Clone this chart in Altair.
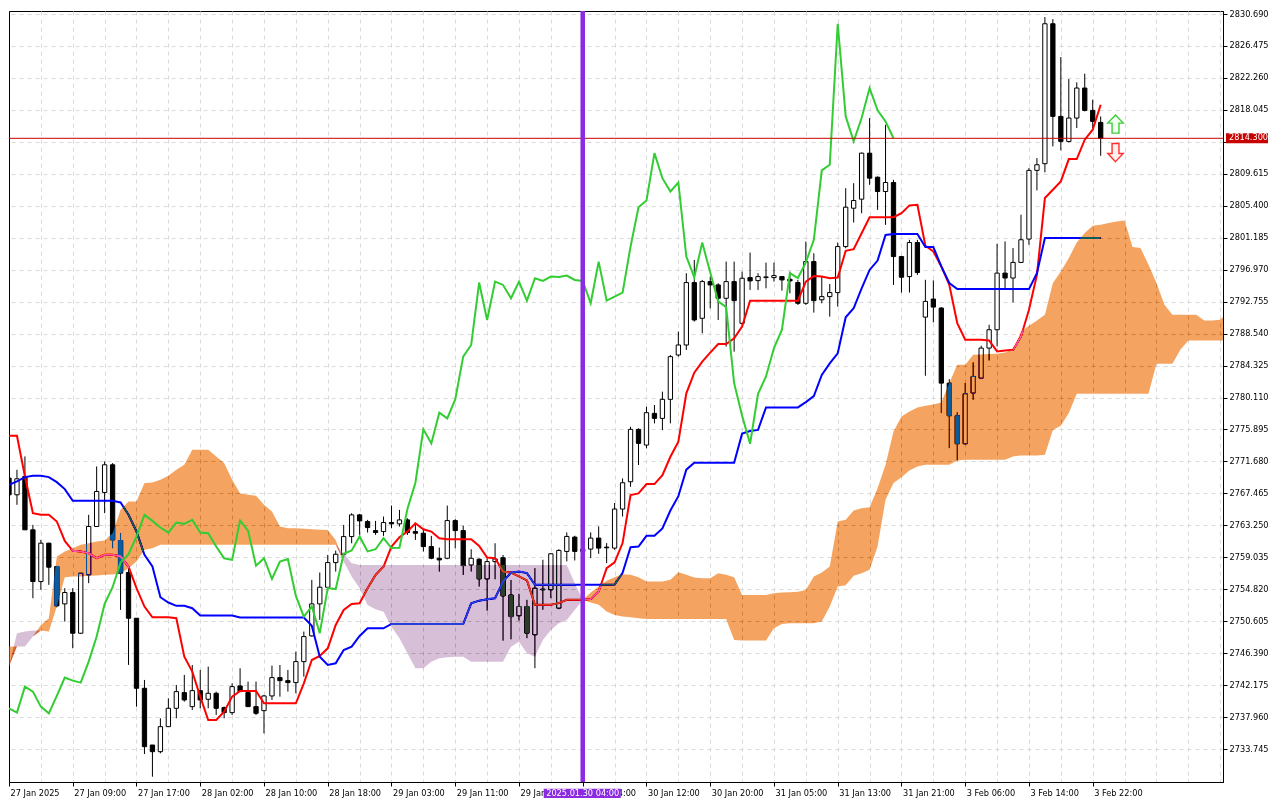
import json
import altair as alt
import pandas as pd

# ---------------- data (XAUUSD H1, Ichimoku) ----------------
open_prices = [
    2769.48, 2767.28, 2769.70, 2762.66, 2755.84, 2760.90, 2757.82, 2752.89, 2754.39, 2749.02,
    2756.72, 2763.10, 2767.59, 2771.24, 2761.25, 2757.03, 2751.00, 2741.76, 2734.28, 2733.40,
    2736.70, 2739.12, 2741.19, 2739.34, 2741.45, 2740.31, 2741.10, 2739.21, 2738.55, 2742.07,
    2741.19, 2739.34, 2738.81, 2740.75, 2743.17, 2742.77, 2742.51, 2745.28, 2748.67, 2752.89,
    2755.08, 2758.34, 2759.44, 2761.77, 2764.63, 2763.75, 2762.56, 2762.43, 2763.62, 2763.45,
    2763.97, 2762.43, 2762.21, 2760.45, 2758.91, 2758.91, 2763.88, 2762.56, 2758.03, 2758.78,
    2756.18, 2758.47, 2758.98, 2754.07, 2751.32, 2752.55, 2748.81, 2754.75, 2754.75, 2752.33,
    2759.81, 2761.70, 2759.81, 2760.12, 2761.57, 2760.38, 2760.25, 2765.40, 2769.00, 2775.91,
    2773.84, 2778.02, 2777.36, 2779.87, 2785.72, 2787.04, 2795.27, 2790.56, 2795.40, 2794.96,
    2793.20, 2795.40, 2789.90, 2795.93, 2795.53, 2795.93, 2795.93, 2796.06, 2795.71, 2795.27,
    2792.54, 2798.04, 2793.00, 2793.42, 2793.95, 2800.02, 2805.08, 2806.27, 2812.34, 2809.17,
    2807.28, 2808.47, 2798.70, 2796.06, 2800.55, 2790.72, 2793.10, 2791.91, 2782.01, 2777.71,
    2774.01, 2780.70, 2782.67, 2786.63, 2789.05, 2796.52, 2795.87, 2797.93, 2801.01, 2810.07,
    2810.95, 2829.41, 2817.19, 2813.89, 2816.97, 2820.93, 2817.98, 2816.40,
]
high_prices = [
    2769.92, 2770.58, 2772.34, 2763.32, 2761.34, 2760.95, 2757.90, 2754.96, 2754.96, 2756.94,
    2764.64, 2771.02, 2771.68, 2771.46, 2762.22, 2757.60, 2751.00, 2742.86, 2734.28, 2737.80,
    2740.44, 2742.20, 2743.52, 2744.84, 2744.18, 2744.62, 2741.32, 2739.34, 2742.42, 2744.40,
    2742.64, 2742.64, 2740.88, 2744.75, 2744.84, 2744.18, 2746.60, 2749.24, 2756.06, 2757.03,
    2759.35, 2759.92, 2763.31, 2764.85, 2764.76, 2763.97, 2763.84, 2764.41, 2765.86, 2765.29,
    2764.19, 2763.45, 2762.65, 2761.86, 2760.32, 2765.86, 2764.06, 2763.22, 2760.10, 2758.91,
    2758.91, 2760.89, 2759.35, 2756.05, 2754.22, 2753.43, 2757.61, 2758.71, 2759.59, 2760.10,
    2762.32, 2761.88, 2761.00, 2762.32, 2763.11, 2760.91, 2766.20, 2769.44, 2776.26, 2776.04,
    2778.90, 2779.12, 2780.88, 2785.72, 2788.80, 2796.50, 2798.26, 2795.62, 2796.06, 2795.18,
    2798.04, 2798.04, 2796.72, 2799.23, 2796.50, 2797.91, 2797.91, 2796.10, 2796.72, 2795.62,
    2800.68, 2799.14, 2796.06, 2795.09, 2800.55, 2807.72, 2808.38, 2812.43, 2816.96, 2809.26,
    2816.08, 2808.82, 2798.80, 2800.90, 2800.90, 2795.64, 2795.56, 2792.04, 2782.54, 2778.15,
    2782.01, 2784.74, 2786.94, 2789.71, 2800.39, 2800.70, 2799.82, 2804.22, 2810.38, 2811.69,
    2830.29, 2830.03, 2825.02, 2822.11, 2821.68, 2822.82, 2819.39, 2817.19,
]
low_prices = [
    2767.06, 2765.96, 2762.66, 2753.64, 2754.74, 2755.40, 2752.45, 2750.56, 2747.04, 2748.93,
    2755.62, 2763.10, 2764.86, 2760.24, 2752.10, 2744.84, 2739.34, 2733.09, 2730.10, 2733.18,
    2736.70, 2737.80, 2740.00, 2738.90, 2739.12, 2739.12, 2738.24, 2737.80, 2738.24, 2741.32,
    2739.34, 2738.24, 2735.82, 2740.22, 2740.66, 2741.32, 2741.10, 2743.30, 2748.58, 2750.78,
    2754.95, 2757.15, 2759.13, 2760.89, 2761.99, 2762.30, 2761.99, 2761.86, 2762.87, 2763.09,
    2761.99, 2761.33, 2759.79, 2758.78, 2757.15, 2758.78, 2760.23, 2756.71, 2757.15, 2755.17,
    2752.00, 2756.14, 2748.04, 2748.22, 2750.70, 2748.37, 2744.41, 2752.11, 2753.65, 2752.20,
    2758.49, 2758.62, 2759.00, 2758.93, 2759.50, 2758.27, 2760.03, 2764.41, 2768.34, 2771.20,
    2773.40, 2776.70, 2775.82, 2776.70, 2785.50, 2786.38, 2790.12, 2788.58, 2791.88, 2790.34,
    2786.82, 2786.16, 2789.68, 2794.30, 2794.30, 2794.52, 2795.40, 2794.21, 2793.86, 2792.32,
    2792.32, 2791.31, 2792.54, 2790.78, 2792.10, 2799.80, 2803.19, 2804.42, 2808.16, 2804.86,
    2802.88, 2794.96, 2793.95, 2793.95, 2796.28, 2782.98, 2790.02, 2778.06, 2773.44, 2771.81,
    2773.88, 2779.82, 2782.54, 2785.00, 2786.85, 2794.55, 2792.66, 2797.84, 2800.26, 2807.43,
    2809.80, 2813.23, 2812.71, 2813.76, 2815.65, 2817.85, 2815.65, 2812.00,
]
close_prices = [
    2767.28, 2769.39, 2762.66, 2755.84, 2760.90, 2757.73, 2752.63, 2754.39, 2749.02, 2756.94,
    2763.10, 2767.72, 2771.24, 2761.34, 2756.94, 2751.00, 2741.76, 2734.06, 2733.40, 2736.70,
    2739.12, 2741.32, 2740.22, 2741.45, 2740.22, 2741.10, 2739.12, 2738.55, 2741.98, 2741.32,
    2739.34, 2738.46, 2740.75, 2743.17, 2742.77, 2742.51, 2745.28, 2748.58, 2752.89, 2755.09,
    2758.34, 2759.44, 2761.77, 2764.63, 2763.84, 2762.96, 2762.30, 2763.62, 2763.45, 2763.97,
    2762.30, 2762.21, 2760.45, 2758.91, 2758.69, 2763.88, 2762.56, 2757.94, 2758.91, 2756.18,
    2758.47, 2758.82, 2753.94, 2751.21, 2752.55, 2749.03, 2754.97, 2754.84, 2759.50, 2759.94,
    2761.79, 2759.81, 2760.10, 2761.57, 2760.25, 2760.29, 2765.40, 2768.87, 2775.91, 2774.06,
    2778.11, 2777.36, 2779.87, 2785.50, 2787.04, 2795.27, 2790.34, 2795.40, 2794.96, 2793.20,
    2795.40, 2792.89, 2795.84, 2795.49, 2796.06, 2796.02, 2796.19, 2795.62, 2795.49, 2792.54,
    2798.04, 2792.89, 2793.42, 2793.95, 2800.02, 2805.21, 2806.09, 2812.34, 2809.04, 2807.28,
    2808.47, 2798.70, 2795.97, 2800.55, 2796.59, 2792.79, 2792.04, 2782.01, 2777.71, 2774.01,
    2780.61, 2782.89, 2786.63, 2789.05, 2796.52, 2795.87, 2797.93, 2800.92, 2810.07, 2810.81,
    2829.41, 2817.19, 2813.89, 2816.97, 2820.93, 2817.98, 2816.53, 2814.30,
]
tenkan_sen = [
    2775.07, 2775.07, 2769.70, 2764.86, 2764.64, 2764.64, 2763.76, 2761.20, 2759.89, 2759.80,
    2759.58, 2758.92, 2759.36, 2759.36, 2759.14, 2757.82, 2754.96, 2752.54, 2751.13, 2751.13,
    2751.13, 2751.00, 2745.94, 2743.96, 2740.66, 2737.58, 2737.58, 2738.68, 2740.66, 2741.41,
    2741.41, 2741.41, 2739.78, 2739.78, 2739.78, 2739.78, 2739.78, 2742.42, 2745.49, 2746.02,
    2747.03, 2750.11, 2752.09, 2752.88, 2752.97, 2754.95, 2756.71, 2757.81, 2760.45, 2761.68,
    2762.43, 2763.53, 2762.74, 2762.43, 2761.55, 2761.42, 2761.42, 2761.42, 2761.42, 2760.54,
    2759.00, 2758.91, 2757.15, 2757.02, 2756.51, 2755.98, 2752.77, 2752.77, 2752.77, 2752.99,
    2753.43, 2753.43, 2753.43, 2753.52, 2754.53, 2757.61, 2758.36, 2760.91, 2767.24, 2767.46,
    2768.69, 2768.69, 2769.88, 2772.30, 2774.28, 2780.66, 2783.39, 2784.84, 2786.03, 2787.17,
    2787.17, 2787.92, 2789.46, 2792.89, 2792.89, 2792.89, 2792.89, 2792.89, 2792.89, 2792.89,
    2795.40, 2796.15, 2796.06, 2795.84, 2795.93, 2799.45, 2799.67, 2801.78, 2803.89, 2803.89,
    2803.89, 2803.89, 2804.42, 2805.45, 2805.52, 2800.13, 2799.38, 2797.40, 2794.98, 2789.93,
    2787.73, 2787.73, 2787.73, 2787.64, 2786.19, 2786.32, 2786.41, 2788.17, 2791.69, 2796.30,
    2806.42, 2807.52, 2808.62, 2811.56, 2811.56, 2814.11, 2815.43, 2818.73,
]
kijun_sen = [
    2768.60, 2769.04, 2769.61, 2769.79, 2769.79, 2769.61, 2768.95, 2768.03, 2766.49, 2766.49,
    2766.49, 2766.49, 2766.49, 2766.49, 2766.27, 2764.64, 2762.44, 2759.36, 2757.82, 2753.77,
    2753.07, 2752.63, 2752.63, 2752.32, 2751.35, 2751.35, 2751.35, 2751.35, 2751.35, 2751.09,
    2751.09, 2751.09, 2751.09, 2751.09, 2751.09, 2751.09, 2751.09, 2751.09, 2750.00, 2745.93,
    2744.83, 2745.05, 2746.81, 2747.25, 2748.66, 2749.67, 2749.67, 2749.67, 2750.24, 2750.24,
    2750.24, 2750.24, 2750.24, 2750.24, 2750.24, 2750.24, 2750.24, 2750.24, 2752.97, 2753.32,
    2753.50, 2753.63, 2755.83, 2757.02, 2757.17, 2756.95, 2755.41, 2755.41, 2755.41, 2755.41,
    2755.41, 2755.41, 2755.41, 2755.41, 2755.41, 2755.41, 2755.45, 2757.00, 2760.37, 2760.46,
    2761.87, 2761.87, 2762.84, 2765.21, 2767.10, 2770.60, 2771.50, 2771.50, 2771.50, 2771.50,
    2771.50, 2771.50, 2775.35, 2775.70, 2775.84, 2778.80, 2778.80, 2778.80, 2778.80, 2778.80,
    2779.50, 2780.30, 2783.08, 2784.62, 2785.94, 2790.69, 2791.88, 2794.52, 2796.94, 2798.17,
    2801.56, 2801.69, 2801.69, 2801.69, 2801.69, 2799.95, 2799.95, 2797.40, 2795.21, 2794.41,
    2794.41, 2794.41, 2794.41, 2794.41, 2794.41, 2794.41, 2794.41, 2794.41, 2794.41, 2796.52,
    2801.14, 2801.14, 2801.14, 2801.14, 2801.14, 2801.14, 2801.14, 2801.14,
]
# cloud vertices: bar position and both spans (last vertex sits on the right edge)
cloud_bars = list(range(153)) + [152.35]
senkou_a = [
    2747.26, 2747.26, 2747.26, 2748.58, 2750.12, 2751.00, 2759.14, 2759.80, 2760.24, 2760.68,
    2760.90, 2761.12, 2761.25, 2762.22, 2765.30, 2766.40, 2766.40, 2768.82, 2768.91, 2769.26,
    2769.79, 2770.58, 2771.24, 2773.22, 2773.22, 2773.22, 2772.34, 2771.46, 2769.26, 2767.50,
    2767.28, 2767.15, 2765.96, 2765.08, 2763.10, 2762.88, 2762.88, 2762.79, 2762.75, 2762.66,
    2762.65, 2761.33, 2758.47, 2756.49, 2754.95, 2752.75, 2752.18, 2751.87, 2749.89, 2748.35,
    2746.37, 2744.39, 2744.39, 2745.27, 2745.71, 2745.84, 2745.93, 2745.93, 2745.27, 2745.27,
    2745.27, 2745.27, 2745.27, 2747.25, 2747.91, 2746.37, 2745.93, 2748.13, 2749.45, 2750.33,
    2750.77, 2752.09, 2753.41, 2754.40, 2755.19, 2755.94, 2756.40, 2756.81, 2756.72, 2756.41,
    2755.84, 2755.84, 2755.84, 2756.06, 2757.07, 2756.72, 2756.37, 2756.28, 2756.28, 2756.94,
    2756.72, 2756.41, 2754.08, 2754.08, 2754.08, 2754.08, 2754.30, 2754.39, 2754.43, 2754.48,
    2754.74, 2756.50, 2757.03, 2757.82, 2763.76, 2763.98, 2765.21, 2765.52, 2765.65, 2768.16,
    2771.24, 2775.64, 2777.62, 2778.28, 2778.81, 2779.03, 2779.20, 2779.47, 2782.01, 2784.43,
    2784.43, 2785.75, 2785.80, 2785.84, 2785.88, 2786.06, 2786.41, 2788.83, 2789.58, 2790.28,
    2791.03, 2795.20, 2796.74, 2798.50, 2800.57, 2801.80, 2802.77, 2802.90, 2803.12, 2803.34,
    2803.47, 2799.95, 2799.82, 2797.62, 2795.21, 2792.35, 2791.03, 2791.03, 2791.03, 2791.03,
    2790.28, 2790.28, 2790.37, 2790.72,
]
senkou_b = [
    2744.62, 2749.02, 2749.24, 2749.37, 2749.37, 2749.24, 2752.54, 2756.41, 2756.50, 2756.50,
    2756.59, 2756.63, 2756.72, 2756.76, 2756.94, 2757.60, 2758.48, 2760.02, 2760.24, 2760.68,
    2760.68, 2760.68, 2760.68, 2760.68, 2760.68, 2760.68, 2760.68, 2760.68, 2760.68, 2760.68,
    2760.68, 2760.68, 2760.68, 2760.68, 2760.68, 2760.68, 2760.68, 2760.68, 2760.68, 2760.68,
    2760.68, 2760.68, 2759.57, 2758.25, 2758.03, 2758.03, 2758.03, 2758.03, 2758.03, 2758.03,
    2758.03, 2758.03, 2758.03, 2758.03, 2758.03, 2758.03, 2758.03, 2758.03, 2758.03, 2758.03,
    2758.03, 2758.03, 2758.03, 2758.03, 2758.03, 2758.03, 2758.03, 2758.03, 2758.03, 2758.03,
    2758.03, 2755.61, 2753.41, 2753.08, 2752.77, 2751.89, 2751.44, 2751.22, 2751.13, 2751.00,
    2750.91, 2750.91, 2750.91, 2750.91, 2750.91, 2750.91, 2750.91, 2750.91, 2750.91, 2750.91,
    2750.91, 2748.14, 2748.05, 2748.05, 2748.05, 2748.05, 2749.68, 2750.25, 2750.34, 2750.34,
    2750.34, 2750.34, 2750.56, 2752.54, 2755.18, 2755.36, 2756.59, 2756.94, 2757.38, 2760.46,
    2766.62, 2768.82, 2769.61, 2770.50, 2771.00, 2771.24, 2771.24, 2771.24, 2771.24, 2771.81,
    2771.90, 2771.90, 2771.90, 2771.90, 2771.90, 2771.90, 2772.34, 2772.47, 2772.47, 2772.47,
    2772.56, 2775.84, 2776.38, 2778.06, 2780.61, 2780.61, 2780.61, 2780.61, 2780.61, 2780.61,
    2780.61, 2780.61, 2780.61, 2780.61, 2784.56, 2784.56, 2784.56, 2786.41, 2787.64, 2787.64,
    2787.64, 2787.64, 2787.64, 2787.64,
]
chikou_shift = 26
time_labels = [
    "27 Jan 2025", "27 Jan 09:00", "27 Jan 17:00", "28 Jan 02:00", "28 Jan 10:00",
    "28 Jan 18:00", "29 Jan 03:00", "29 Jan 11:00", "29 Jan 19:00", "30 Jan 04:00",
    "30 Jan 12:00", "30 Jan 20:00", "31 Jan 05:00", "31 Jan 13:00", "31 Jan 21:00",
    "3 Feb 06:00", "3 Feb 14:00", "3 Feb 22:00",
]
price_ticks = [
    2733.745, 2737.960, 2742.175, 2746.390, 2750.605, 2754.820, 2759.035, 2763.250,
    2767.465, 2771.680, 2775.895, 2780.110, 2784.325, 2788.540, 2792.755, 2796.970,
    2801.185, 2805.400, 2809.615, 2813.830, 2818.045, 2822.260, 2826.475, 2830.690,
]
last_price = 2814.30
marker_bar = 72
marker_label = "2025.01.30 04:00"
arrow_bars = [138.86, 138.86]
arrow_prices = [2816.18, 2812.42]

# ---------------- tables ----------------
n = len(close_prices)
candles = pd.DataFrame({"i": range(n), "o": open_prices, "h": high_prices,
                        "l": low_prices, "c": close_prices})
lines = pd.DataFrame({"i": range(n), "tenkan": tenkan_sen, "kijun": kijun_sen})
chikou = pd.DataFrame({"i": range(n - chikou_shift), "v": close_prices[chikou_shift:]})
cloud = pd.DataFrame({"i": cloud_bars, "a": senkou_a, "b": senkou_b})

W, H = 1214, 771
FONT = "DejaVu Sans"
FS = 8.2
xscale = alt.Scale(domain=[0, 152.35], nice=False, zero=False)
yscale = alt.Scale(domain=[2729.40, 2831.09], nice=False, zero=False)

labels_js = json.dumps(time_labels)
tick_test = "datum.value % 8 == 0 && datum.value <= 136"
x_axis = alt.Axis(
    values=list(range(0, 153, 4)),
    labelExpr=f"({tick_test}) ? {labels_js}[datum.value / 8] : ''",
    grid=True, gridDash=[4, 4], gridColor="#d9d9d9", gridWidth=1,
    gridOpacity=alt.condition("datum.value == 0", alt.value(0), alt.value(1)),
    tickOpacity=alt.condition(tick_test, alt.value(1), alt.value(0)),
    tickSize=4, tickColor="black", domainColor="black",
    labelAlign="left", labelOffset=1, labelPadding=3, labelFlush=False,
    labelOverlap=False, labelFont=FONT, labelFontSize=FS, labelColor="black",
    title=None,
)
# the tick label sitting under the last-price tag is hidden by it in the original
y_axis = alt.Axis(
    orient="right", values=price_ticks,
    labelExpr=f"abs(datum.value - {last_price}) < 1.2 ? '' : format(datum.value, '.3f')",
    grid=True, gridDash=[4, 4], gridColor="#d9d9d9", gridWidth=1,
    tickSize=4, tickColor="black", domainColor="black",
    labelPadding=2, labelOverlap=False, labelFont=FONT, labelFontSize=FS,
    labelColor="black", title=None,
)


def X(field):
    return alt.X(field, type="quantitative", scale=xscale, axis=x_axis)


def Y(field):
    return alt.Y(field, type="quantitative", scale=yscale, axis=y_axis)


wicks = alt.Chart(candles).mark_rule(color="black", strokeWidth=1, clip=True).encode(
    x=X("i"), y=Y("l"), y2="h:Q")

bodies = alt.Chart(candles).transform_calculate(
    x0="datum.i - 0.27", x1="datum.i + 0.27"
).mark_bar(stroke="black", strokeWidth=1, clip=True).encode(
    x=X("x0"), x2="x1:Q", y=Y("o"), y2="c:Q",
    fill=alt.condition("datum.c >= datum.o", alt.value("white"), alt.value("black")),
)

tenkan_line = alt.Chart(lines).mark_line(color="#FF0000", strokeWidth=2, clip=True).encode(
    x=X("i"), y=Y("tenkan"))
kijun_line = alt.Chart(lines).mark_line(color="#0000FF", strokeWidth=2, clip=True).encode(
    x=X("i"), y=Y("kijun"))

# the cloud is painted in "difference" mode (no clip, which would isolate the blend)
cloud_up = alt.Chart(cloud).transform_calculate(lo="min(datum.a, datum.b)").mark_area(
    color="#0B5B9F", blend="difference", interpolate="linear"
).encode(x=X("i"), y=Y("a"), y2="lo:Q")
cloud_down = alt.Chart(cloud).transform_calculate(lo="min(datum.a, datum.b)").mark_area(
    color="#274027", blend="difference", interpolate="linear"
).encode(x=X("i"), y=Y("b"), y2="lo:Q")

chikou_line = alt.Chart(chikou).mark_line(color="#32CD32", strokeWidth=2, clip=True).encode(
    x=X("i"), y=Y("v"))

price_df = pd.DataFrame({"p": [last_price]})
price_line = alt.Chart(price_df).mark_rule(color="#C80000", strokeWidth=1).encode(y=Y("p"))
price_box = alt.Chart(price_df).mark_rect(color="#C80000", yOffset=-5, y2Offset=5).encode(
    x=alt.value(W + 3), x2=alt.value(W + 45), y=Y("p"), y2="p:Q")
price_text = alt.Chart(price_df).mark_text(
    align="left", baseline="middle", color="white", font=FONT, fontSize=FS
).encode(x=alt.value(W + 6), y=Y("p"), text=alt.Text("p:Q", format=".3f"))

marker_df = pd.DataFrame({"m": [marker_bar], "t": [marker_label]})
marker_line = alt.Chart(marker_df).mark_rule(color="#8A2BE2", strokeWidth=4.5).encode(x=X("m"))
marker_box = alt.Chart(marker_df).mark_rect(color="#8A2BE2", xOffset=-39, x2Offset=38).encode(
    x=X("m"), x2="m:Q", y=alt.value(H + 6.7), y2=alt.value(H + 16))
marker_text = alt.Chart(marker_df).mark_text(
    align="center", baseline="middle", color="white", font=FONT, fontSize=FS
).encode(x=X("m"), y=alt.value(H + 11.5), text="t:N")

up_path = "M0,-1 L0.85,-0.1 L0.38,-0.1 L0.38,1 L-0.38,1 L-0.38,-0.1 L-0.85,-0.1 Z"
down_path = "M0,1 L0.85,0.1 L0.38,0.1 L0.38,-1 L-0.38,-1 L-0.38,0.1 L-0.85,0.1 Z"
arrow_up = alt.Chart(pd.DataFrame({"i": [arrow_bars[0]], "p": [arrow_prices[0]]})).mark_point(
    shape=up_path, size=330, filled=False, fill="#f2fff0", fillOpacity=1,
    stroke="#3ccc3c", strokeWidth=1.4, opacity=1
).encode(x=X("i"), y=Y("p"))
arrow_down = alt.Chart(pd.DataFrame({"i": [arrow_bars[1]], "p": [arrow_prices[1]]})).mark_point(
    shape=down_path, size=330, filled=False, fill="#fff2ec", fillOpacity=1,
    stroke="#ff3030", strokeWidth=1.4, opacity=1
).encode(x=X("i"), y=Y("p"))

chart = alt.layer(
    wicks, bodies, tenkan_line, kijun_line, cloud_up, cloud_down, chikou_line,
    price_line, marker_line, arrow_up, arrow_down,
    price_box, price_text, marker_box, marker_text,
).properties(width=W, height=H, padding=0, background="white").configure_view(
    stroke="black", strokeWidth=1
)

chart.save("out.html", embed_options={"renderer": "svg", "actions": False})
